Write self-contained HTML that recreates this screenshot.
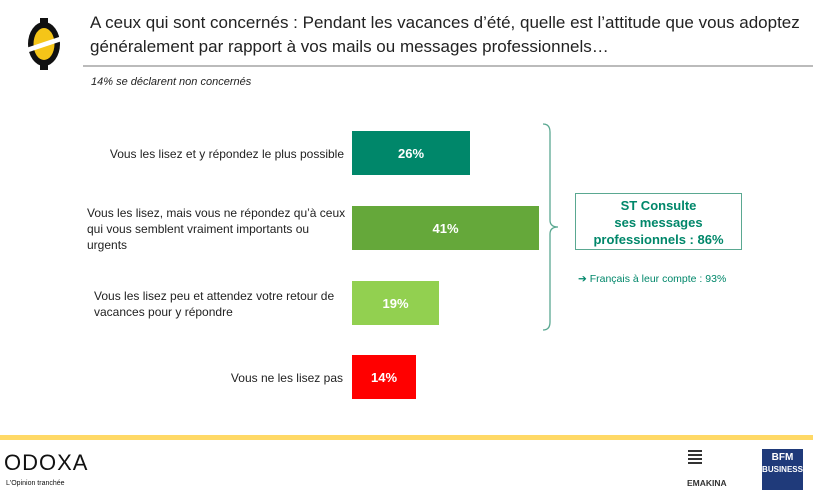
<!DOCTYPE html>
<html><head><meta charset="utf-8"><style>
*{margin:0;padding:0}
body{width:813px;height:495px;background:#fff;position:relative;overflow:hidden;font-family:"Liberation Sans",sans-serif;}
.a{position:absolute}
.lab{position:absolute;font-size:12px;color:#222;line-height:16px}
.bar{position:absolute;left:352px;height:44px;color:#fff;font-weight:bold;font-size:13px;display:flex;align-items:center;justify-content:center}
</style></head><body>
<svg class="a" style="left:24px;top:14px" width="40" height="60" viewBox="0 0 40 60">
<ellipse cx="20" cy="30" rx="16" ry="22" fill="#111"/>
<ellipse cx="20" cy="30" rx="10.5" ry="16" fill="#f5c518"/>
<rect x="16" y="4" width="8" height="5" fill="#111"/><rect x="16" y="51" width="8" height="5" fill="#111"/>
<polygon points="2,34 38,22 38,27 2,39" fill="#fff"/>
</svg>
<div class="a" style="left:90px;top:11px;font-size:17px;color:#222;line-height:24px;width:722px">A ceux qui sont concernés : Pendant les vacances d’été, quelle est l’attitude que vous adoptez généralement par rapport à vos mails ou messages professionnels…</div>
<div class="a" style="left:83px;top:65px;width:730px;height:1.5px;background:#bbb"></div>
<div class="a" style="left:91px;top:76px;font-size:11px;font-style:italic;color:#222">14% se déclarent non concernés</div>

<div class="lab" style="top:146px;left:104px;width:240px;text-align:right">Vous les lisez et y répondez le plus possible</div>
<div class="lab" style="top:205px;left:87px;width:262px">Vous les lisez, mais vous ne répondez qu’à ceux qui vous semblent vraiment importants ou urgents</div>
<div class="lab" style="top:288px;left:94px;width:256px">Vous les lisez peu et attendez votre retour de vacances pour y répondre</div>
<div class="lab" style="top:370px;left:200px;width:143px;text-align:right">Vous ne les lisez pas</div>

<div class="bar" style="top:131px;width:118px;background:#00876a">26%</div>
<div class="bar" style="top:206px;width:187px;background:#65a83a">41%</div>
<div class="bar" style="top:281px;width:87px;background:#92d050">19%</div>
<div class="bar" style="top:355px;width:64px;background:#ff0000">14%</div>

<svg class="a" style="left:540px;top:120px" width="25" height="215">
<path d="M3,4 Q10,4 10,12 L10,100 Q10,107 18,107 Q10,107 10,114 L10,202 Q10,210 3,210" fill="none" stroke="#5aa891" stroke-width="1.3"/>
</svg>
<div class="a" style="left:575px;top:193px;width:167px;height:57px;border:1.3px solid #5aa891;color:#00876a;font-weight:bold;font-size:13px;line-height:17px;text-align:center;padding-top:3px;box-sizing:border-box">ST Consulte<br>ses messages<br>professionnels : 86%</div>
<div class="a" style="left:578px;top:273px;font-size:10.5px;color:#00876a">➔ Français à leur compte : 93%</div>

<div class="a" style="left:0;top:435px;width:813px;height:5px;background:#ffd966"></div>
<div class="a" style="left:4px;top:450px;font-size:22px;letter-spacing:1px;color:#111">ODOXA</div>
<div class="a" style="left:6px;top:480px;font-size:7px;color:#111">L'Opinion tranchée</div>
<div class="a" style="left:688px;top:450px;width:14px;height:14px;background:repeating-linear-gradient(#333 0 2px,#fff 2px 4px)"></div>
<div class="a" style="left:687px;top:478px;font-size:8.5px;font-weight:bold;color:#333">EMAKINA</div>
<div class="a" style="left:762px;top:449px;width:41px;height:41px;background:#1f3a7a;color:#fff;font-weight:bold;font-size:10px;line-height:12px;text-align:center;padding-top:3px;box-sizing:border-box">BFM<br><span style="font-size:8px">BUSINESS</span></div>
</body></html>
